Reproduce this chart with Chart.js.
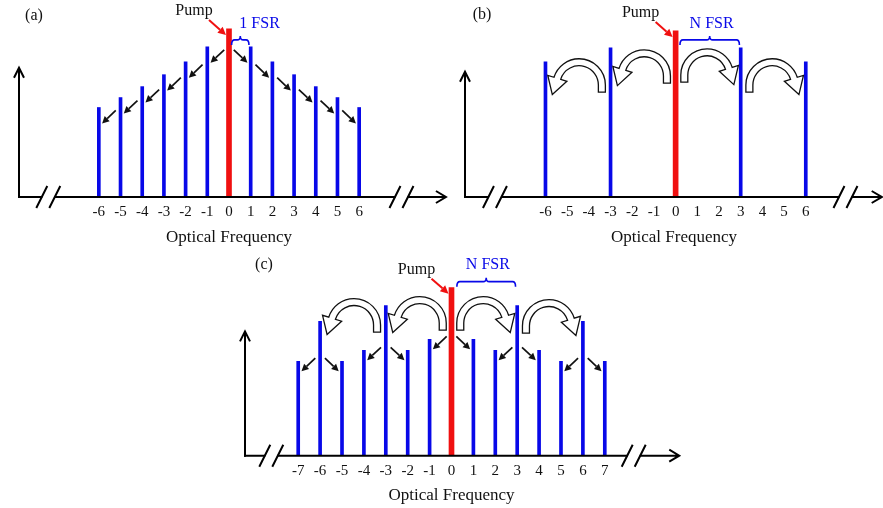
<!DOCTYPE html>
<html>
<head>
<meta charset="utf-8">
<script src="https://cdn.jsdelivr.net/npm/chart.js@4.4.1/dist/chart.umd.min.js"></script>
<style>
  html, body { margin: 0; padding: 0; background: #fff; }
  #wrap { position: relative; width: 883px; height: 508px; overflow: hidden; }
  canvas { position: absolute; }
</style>
</head>
<body>
<div id="wrap">
  <canvas id="panelA" width="450" height="250" style="left:0;top:0"></canvas>
  <canvas id="panelB" width="443" height="250" style="left:440px;top:0"></canvas>
  <canvas id="panelC" width="460" height="258" style="left:230px;top:250px"></canvas>
</div>
<script>
// ---- data (heights in arbitrary power units) ----

// (a) cascaded FWM, 1 FSR comb
const tickLabelsA = [-6, -5, -4, -3, -2, -1, 0, 1, 2, 3, 4, 5, 6];
const sidebandFreqA = [-6, -5, -4, -3, -2, -1, 1, 2, 3, 4, 5, 6];
const sidebandPowerA = [90, 100, 111, 123, 136, 151, 151, 136, 123, 111, 100, 90];
const pumpPowerA = 169;
const cascadeA = [[0, -1], [-1, -2], [-2, -3], [-3, -4], [-4, -5], [-5, -6],
                  [0, 1], [1, 2], [2, 3], [3, 4], [4, 5], [5, 6]];

// (b) N FSR primary comb
const tickLabelsB = [-6, -5, -4, -3, -2, -1, 0, 1, 2, 3, 4, 5, 6];
const sidebandFreqB = [-6, -3, 3, 6];
const sidebandPowerB = [136, 150, 150, 136];
const pumpPowerB = 167;
const hopsB = [[0, -3, 148], [-3, -6, 139], [0, 3, 149], [3, 6, 139]]; // from, to, arc top

// (c) primary comb plus secondary lines
const tickLabelsC = [-7, -6, -5, -4, -3, -2, -1, 0, 1, 2, 3, 4, 5, 6, 7];
const sidebandFreqC = [-7, -6, -5, -4, -3, -2, -1, 1, 2, 3, 4, 5, 6, 7];
const sidebandPowerC = [95, 135, 95, 106, 151, 106, 117, 117, 106, 151, 106, 95, 135, 95];
const pumpPowerC = 169;
const hopsC = [[0, -3, 160], [-3, -6, 158], [0, 3, 160], [3, 6, 157]];
const cascadeC = [[0, -1], [0, 1], [-3, -4], [-3, -2], [-6, -7], [-6, -5],
                  [3, 2], [3, 4], [6, 5], [6, 7]];

const BLUE = "#0808e8";
const RED = "#f01010";
const SERIF = "'Liberation Serif', 'Times New Roman', serif";

const panels = [
  {
    id: "panelA", letter: "(a)", letterPos: [34, 16],
    ticks: tickLabelsA, freq: sidebandFreqA, power: sidebandPowerA, pump: pumpPowerA,
    cascade: cascadeA, cascadeDy: [-3, -16], hops: [],
    xMin: -9.68, xMax: 9.68, axisEnd: 10.0, yAxisTop: 130, breaks: [-8.33, 7.95],
    padding: { left: 19, right: 11, top: 18, bottom: 2.6 },
    fsr: { text: "1 FSR", from: 0.12, to: 0.92, y: 158, textX: 1.41, textY: 174 }
  },
  {
    id: "panelB", letter: "(b)", letterPos: [42, 15],
    ticks: tickLabelsB, freq: sidebandFreqB, power: sidebandPowerB, pump: pumpPowerB,
    cascade: [], cascadeDy: [0, 0], hops: hopsB,
    xMin: -9.71, xMax: 9.56, axisEnd: 9.5, yAxisTop: 126, breaks: [-8.33, 7.83],
    padding: { left: 25, right: 0, top: 18, bottom: 2.6 },
    fsr: { text: "N FSR", from: 0.2, to: 2.94, y: 158, textX: 1.66, textY: 174 }
  },
  {
    id: "panelC", letter: "(c)", letterPos: [34, 15],
    ticks: tickLabelsC, freq: sidebandFreqC, power: sidebandPowerC, pump: pumpPowerC,
    cascade: cascadeC, cascadeDy: [3, -10], hops: hopsC,
    xMin: -9.43, xMax: 9.43, axisEnd: 10.4, yAxisTop: 125, breaks: [-8.23, 8.32],
    padding: { left: 15, right: 32, top: 26.7, bottom: 1.9 },
    fsr: { text: "N FSR", from: 0.245, to: 2.925, y: 175, textX: 1.66, textY: 192 }
  }
];

function drawArrow(ctx, x1, y1, x2, y2, color, lw, headLen, headHalf) {
  const ang = Math.atan2(y2 - y1, x2 - x1);
  const bx = x2 - headLen * Math.cos(ang), by = y2 - headLen * Math.sin(ang);
  ctx.save();
  ctx.strokeStyle = color;
  ctx.fillStyle = color;
  ctx.lineWidth = lw;
  ctx.beginPath();
  ctx.moveTo(x1, y1);
  ctx.lineTo(bx, by);
  ctx.stroke();
  ctx.beginPath();
  ctx.moveTo(x2, y2);
  ctx.lineTo(bx + headHalf * Math.sin(ang), by - headHalf * Math.cos(ang));
  ctx.lineTo(bx - headHalf * Math.sin(ang), by + headHalf * Math.cos(ang));
  ctx.closePath();
  ctx.fill();
  ctx.restore();
}

// hollow curved arrow hopping N FSR
function drawHop(ctx, xs, ys, from, to, top) {
  const dir = Math.sign(to - from);
  const r = (xs.getPixelForValue(1) - xs.getPixelForValue(0)) * 1.05;
  const w = 3.5;
  const legX = xs.getPixelForValue(from + dir * 0.4);
  const cy = ys.getPixelForValue(top) + w + r;
  const legBottom = cy + 7;
  const end = -0.3;
  const cx = r;
  const ex = cx + r * Math.cos(end), ey = cy + r * Math.sin(end);
  const nx = Math.cos(end), ny = Math.sin(end);
  const tx = -Math.sin(end), ty = Math.cos(end);

  ctx.save();
  ctx.translate(legX, 0);
  ctx.scale(dir, 1);
  ctx.beginPath();
  ctx.moveTo(cx - r - w, legBottom);
  ctx.lineTo(cx - r - w, cy);
  ctx.arc(cx, cy, r + w, Math.PI, 2 * Math.PI + end);
  ctx.lineTo(ex + nx * 10, ey + ny * 10);
  ctx.lineTo(ex + tx * 17, ey + ty * 17);
  ctx.lineTo(ex - nx * 10, ey - ny * 10);
  ctx.lineTo(cx + (r - w) * Math.cos(end), cy + (r - w) * Math.sin(end));
  ctx.arc(cx, cy, r - w, 2 * Math.PI + end, Math.PI, true);
  ctx.lineTo(cx - r + w, legBottom);
  ctx.closePath();
  ctx.fillStyle = "#fff";
  ctx.fill();
  ctx.lineWidth = 1.3;
  ctx.strokeStyle = "#111";
  ctx.stroke();
  ctx.restore();
}

function drawBrace(ctx, x1, x2, y) {
  const xm = (x1 + x2) / 2;
  ctx.save();
  ctx.strokeStyle = BLUE;
  ctx.lineWidth = 1.6;
  ctx.beginPath();
  ctx.moveTo(x1, y + 5);
  ctx.quadraticCurveTo(x1, y, x1 + 3, y);
  ctx.lineTo(xm - 3, y);
  ctx.quadraticCurveTo(xm, y, xm, y - 4);
  ctx.quadraticCurveTo(xm, y, xm + 3, y);
  ctx.lineTo(x2 - 3, y);
  ctx.quadraticCurveTo(x2, y, x2, y + 5);
  ctx.stroke();
  ctx.restore();
}

const schematicPlugin = {
  id: "schematic",
  afterDatasetsDraw(chart, args, opts) {
    const p = opts.panel;
    const ctx = chart.ctx;
    const xs = chart.scales.x, ys = chart.scales.y;
    const base = ys.getPixelForValue(0);
    const x0 = chart.chartArea.left;
    const xEnd = xs.getPixelForValue(p.axisEnd);
    const yTop = ys.getPixelForValue(p.yAxisTop);
    const heightAt = f => f === 0 ? p.pump : p.power[p.freq.indexOf(f)];

    ctx.save();
    ctx.strokeStyle = "#000";
    ctx.lineWidth = 2;
    ctx.lineCap = "butt";

    // y axis with open arrowhead
    ctx.beginPath();
    ctx.moveTo(x0, base + 1);
    ctx.lineTo(x0, yTop);
    ctx.moveTo(x0 - 5, yTop + 10);
    ctx.lineTo(x0, yTop);
    ctx.lineTo(x0 + 5, yTop + 10);
    ctx.stroke();

    // x axis, interrupted at the two breaks
    const bL = xs.getPixelForValue(p.breaks[0]);
    const bR = xs.getPixelForValue(p.breaks[1]);
    ctx.beginPath();
    ctx.moveTo(x0 - 1, base);
    ctx.lineTo(bL - 6, base);
    ctx.moveTo(bL + 6, base);
    ctx.lineTo(bR - 6, base);
    ctx.moveTo(bR + 6, base);
    ctx.lineTo(xEnd, base);
    ctx.moveTo(xEnd - 10, base - 6);
    ctx.lineTo(xEnd, base);
    ctx.lineTo(xEnd - 10, base + 6);
    ctx.stroke();
    [bL, bR].forEach(bx => {
      ctx.beginPath();
      ctx.moveTo(bx - 12, base + 11);
      ctx.lineTo(bx - 1, base - 11);
      ctx.moveTo(bx + 1, base + 11);
      ctx.lineTo(bx + 12, base - 11);
      ctx.stroke();
    });
    ctx.restore();

    // small cascade arrows
    p.cascade.forEach(([from, to]) => {
      const dir = Math.sign(to - from);
      const h = heightAt(to);
      drawArrow(ctx,
        xs.getPixelForValue(from + dir * 0.22), ys.getPixelForValue(h + p.cascadeDy[0]),
        xs.getPixelForValue(from + dir * 0.85), ys.getPixelForValue(h + p.cascadeDy[1]),
        "#111", 1.7, 7, 3.6);
    });

    // hollow hop arrows
    p.hops.forEach(([from, to, top]) => drawHop(ctx, xs, ys, from, to, top));

    // pump label + red arrow
    const px = xs.getPixelForValue(0);
    const pTop = ys.getPixelForValue(p.pump);
    drawArrow(ctx, px - 20, pTop - 9, px - 3, pTop + 6, RED, 2, 8, 4);
    ctx.save();
    ctx.font = "16px " + SERIF;
    ctx.textAlign = "center";
    ctx.textBaseline = "middle";
    ctx.fillStyle = "#111";
    ctx.fillText("Pump", px - 35, pTop - 18);

    // FSR brace and label
    drawBrace(ctx, xs.getPixelForValue(p.fsr.from), xs.getPixelForValue(p.fsr.to), ys.getPixelForValue(p.fsr.y));
    ctx.fillStyle = BLUE;
    ctx.fillText(p.fsr.text, xs.getPixelForValue(p.fsr.textX), ys.getPixelForValue(p.fsr.textY));

    // panel letter
    ctx.fillStyle = "#111";
    ctx.fillText(p.letter, p.letterPos[0], p.letterPos[1]);
    ctx.restore();
  }
};

panels.forEach(p => {
  new Chart(document.getElementById(p.id), {
    type: "bar",
    data: {
      datasets: [
        {
          label: "Sidebands",
          data: p.freq.map((f, i) => ({ x: f, y: p.power[i] })),
          backgroundColor: BLUE,
          barThickness: 3,
          grouped: false
        },
        {
          label: "Pump",
          data: [{ x: 0, y: p.pump }],
          backgroundColor: RED,
          barThickness: 5,
          grouped: false
        }
      ]
    },
    options: {
      responsive: false,
      animation: false,
      layout: { padding: p.padding },
      plugins: {
        legend: { display: false },
        tooltip: { enabled: false },
        schematic: { panel: p }
      },
      scales: {
        x: {
          type: "linear",
          min: p.xMin,
          max: p.xMax,
          offset: false,
          grid: { display: false, drawTicks: false },
          border: { display: false },
          afterBuildTicks: scale => {
            scale.ticks = p.ticks.map(v => ({ value: v }));
          },
          ticks: {
            autoSkip: false,
            maxRotation: 0,
            padding: 6,
            color: "#111",
            font: { family: SERIF, size: 15 },
            callback: v => String(v)
          },
          title: {
            display: true,
            text: "Optical Frequency",
            color: "#111",
            font: { family: SERIF, size: 17 },
            padding: { top: 0, bottom: 0 }
          }
        },
        y: { display: false, min: 0, max: 180 }
      }
    },
    plugins: [schematicPlugin]
  });
});
</script>
</body>
</html>
